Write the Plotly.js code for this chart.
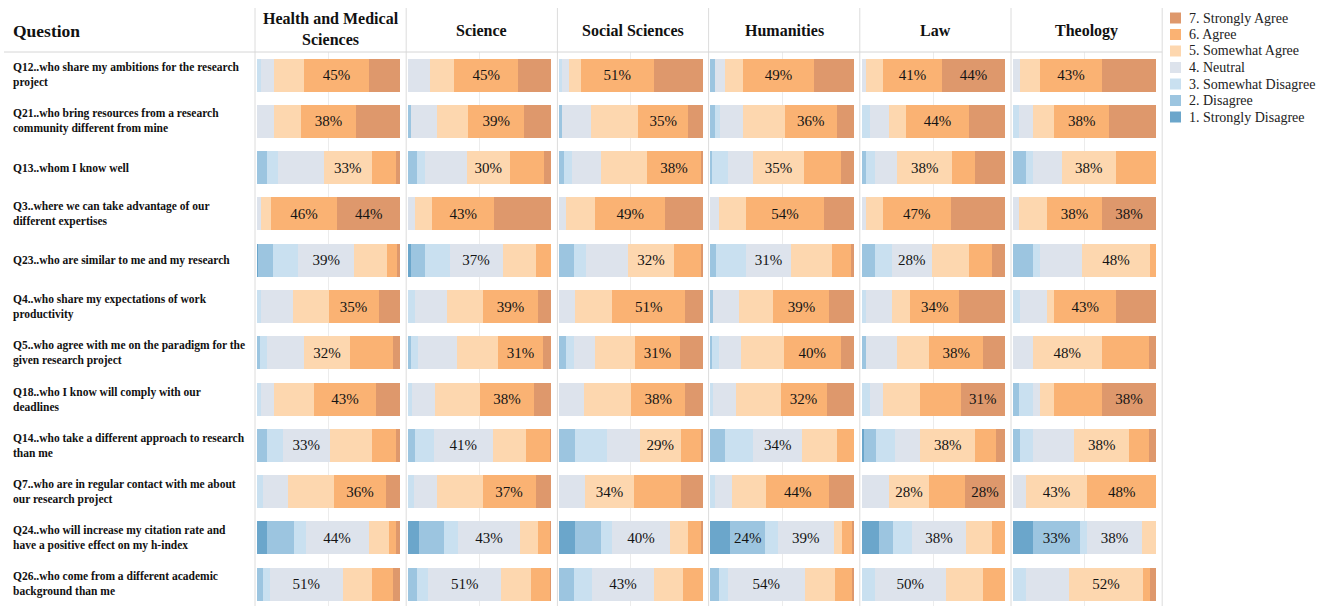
<!DOCTYPE html>
<html>
<head>
<meta charset="utf-8">
<script src="https://cdn.plot.ly/plotly-3.0.1.min.js"></script>
<style>
  html, body { margin: 0; padding: 0; background: #ffffff; }
  #chart { width: 1331px; height: 606px; }
</style>
</head>
<body>
<div id="chart"></div>
<script>
// Questions (row order, top to bottom)
const questionCodes = ["Q12", "Q21", "Q13", "Q3", "Q23", "Q4", "Q5", "Q18", "Q14", "Q7", "Q24", "Q26"];
const questionTexts = [
  "Q12..who share my ambitions for the research<br>project",
  "Q21..who bring resources from a research<br>community different from mine",
  "Q13..whom I know well",
  "Q3..where we can take advantage of our<br>different expertises",
  "Q23..who are similar to me and my research",
  "Q4..who share my expectations of work<br>productivity",
  "Q5..who agree with me on the paradigm for the<br>given research project",
  "Q18..who I know will comply with our<br>deadlines",
  "Q14..who take a different approach to research<br>than me",
  "Q7..who are in regular contact with me about<br>our research project",
  "Q24..who will increase my citation rate and<br>have a positive effect on my h-index",
  "Q26..who come from a different academic<br>background than me"
];

// Disciplines (panel order, left to right)
const disciplines = ["Health and Medical Sciences", "Science", "Social Sciences", "Humanities", "Law", "Theology"];
const disciplineHeaders = ["Health and Medical<br>Sciences", "Science", "Social Sciences", "Humanities", "Law", "Theology"];

// Likert response levels and their colours
const responses = ["1. Strongly Disagree", "2. Disagree", "3. Somewhat Disagree", "4. Neutral",
                   "5. Somewhat Agree", "6. Agree", "7. Strongly Agree"];
const responseColors = ["#6ba6cb", "#9cc5e0", "#c9e0f0", "#dde3ec", "#fdd7af", "#fab273", "#de986c"];

// Share of answers (%) per question, levels 1..7
const health = [
  [0, 0, 3, 9, 21, 45, 22],
  [0, 0, 0, 12, 19, 38, 31],
  [0, 7, 8, 32, 33, 17, 3],
  [0, 0, 0, 3, 7, 46, 44],
  [1, 10, 18, 39, 23, 7, 2],
  [0, 0, 3, 22, 25, 35, 15],
  [0, 2, 5, 26, 32, 30, 5],
  [0, 0, 3, 9, 28, 43, 17],
  [0, 7, 11, 33, 29, 17, 3],
  [0, 0, 4, 18, 32, 36, 10],
  [7, 19, 8, 44, 14, 5, 3],
  [0, 4, 5, 51, 20, 15, 5]
];
const science = [
  [0, 0, 0, 15, 17, 45, 23],
  [0, 2, 0, 18, 22, 39, 19],
  [0, 6, 6, 29, 30, 24, 5],
  [0, 0, 0, 5, 12, 43, 40],
  [2, 10, 17, 37, 23, 11, 0],
  [0, 0, 5, 22, 25, 39, 9],
  [0, 2, 5, 27, 29, 31, 6],
  [0, 0, 3, 16, 31, 38, 12],
  [0, 5, 13, 41, 23, 17, 1],
  [0, 0, 4, 16, 32, 37, 11],
  [8, 17, 10, 43, 13, 8, 1],
  [0, 6, 8, 51, 21, 13, 1]
];
const socialSciences = [
  [0, 0, 2, 5, 8, 51, 34],
  [0, 2, 0, 20, 33, 35, 10],
  [0, 3, 6, 20, 32, 38, 1],
  [0, 0, 0, 5, 20, 49, 26],
  [0, 10, 9, 29, 32, 19, 1],
  [0, 0, 0, 11, 26, 51, 12],
  [0, 5, 5, 15, 28, 31, 16],
  [0, 0, 0, 17, 33, 38, 12],
  [0, 11, 22, 23, 29, 14, 1],
  [0, 0, 0, 18, 34, 33, 15],
  [11, 18, 8, 40, 13, 9, 1],
  [0, 10, 13, 43, 20, 14, 0]
];
const humanities = [
  [0, 3, 0, 7, 13, 49, 28],
  [0, 3, 4, 16, 29, 36, 12],
  [0, 1, 11, 18, 35, 26, 9],
  [0, 0, 0, 6, 19, 54, 21],
  [0, 4, 21, 31, 29, 13, 2],
  [0, 2, 0, 18, 24, 39, 17],
  [0, 1, 5, 15, 30, 40, 9],
  [0, 0, 2, 16, 31, 32, 19],
  [0, 10, 20, 34, 24, 12, 0],
  [0, 0, 3, 12, 24, 44, 17],
  [14, 24, 9, 39, 6, 7, 1],
  [0, 6, 6, 54, 21, 12, 1]
];
const law = [
  [0, 0, 0, 3, 12, 41, 44],
  [0, 0, 6, 13, 12, 44, 25],
  [0, 3, 6, 16, 38, 16, 21],
  [0, 0, 0, 3, 12, 47, 38],
  [0, 9, 12, 28, 26, 16, 9],
  [0, 0, 3, 18, 13, 34, 32],
  [0, 3, 0, 22, 22, 38, 15],
  [0, 0, 6, 9, 26, 28, 31],
  [2, 8, 13, 18, 38, 15, 6],
  [0, 0, 0, 19, 28, 25, 28],
  [12, 10, 13, 38, 18, 9, 0],
  [0, 0, 9, 50, 26, 15, 0]
];
const theology = [
  [0, 0, 0, 5, 14, 43, 38],
  [0, 0, 4, 10, 15, 38, 33],
  [0, 9, 5, 20, 38, 28, 0],
  [0, 0, 0, 4, 20, 38, 38],
  [0, 14, 5, 29, 48, 4, 0],
  [0, 0, 5, 19, 5, 43, 28],
  [0, 0, 0, 14, 48, 33, 5],
  [0, 4, 10, 5, 10, 33, 38],
  [0, 5, 9, 29, 38, 14, 5],
  [0, 0, 0, 9, 43, 48, 0],
  [14, 33, 5, 38, 10, 0, 0],
  [0, 0, 9, 30, 52, 5, 4]
];
const shares = [health, science, socialSciences, humanities, law, theology];

// The largest share of each bar is labelled; these extra segments are labelled too
const extraLabels = [
  ["Health and Medical Sciences", "Q3", "7. Strongly Agree"],
  ["Humanities", "Q24", "2. Disagree"],
  ["Law", "Q12", "6. Agree"],
  ["Theology", "Q24", "2. Disagree"],
  ["Theology", "Q7", "5. Somewhat Agree"]
];

// ---- page geometry (pixels) ----
const W = 1331, H = 606, TOP = 52;
const COL0 = 255, COLW = 151.2, BAR_PAD = 1.8, BAR_W = 143.4;
const FONT = "'Liberation Serif', 'Times New Roman', Times, serif";
const px = x => x / W;
const py = y => (H - y) / (H - TOP);

function isLabelled(d, q, r) {
  const row = shares[d][q];
  const mx = Math.max(...row);
  if (row[r] === mx) return true;
  return extraLabels.some(e => e[0] === disciplines[d] && e[1] === questionCodes[q] && e[2] === responses[r]);
}

const traces = [];
const layout = {
  width: W, height: H,
  margin: { l: 0, r: 0, t: TOP, b: 0, pad: 0 },
  paper_bgcolor: "#ffffff",
  plot_bgcolor: "#ffffff",
  barmode: "stack",
  bargap: 0.287,
  showlegend: false,
  font: { family: FONT, color: "#111111" },
  yaxis: {
    type: "category",
    categoryorder: "array",
    categoryarray: questionCodes,
    range: [11.47, -0.5],
    showticklabels: false, showgrid: false, zeroline: false, showline: false,
    fixedrange: true
  },
  shapes: [],
  annotations: []
};

disciplines.forEach((disc, d) => {
  const axId = d === 0 ? "" : String(d + 1);
  const left = COL0 + COLW * d;
  const k = BAR_W / 100;
  layout["xaxis" + axId] = {
    domain: [px(left), px(left + COLW)],
    range: [-BAR_PAD / k, (COLW - BAR_PAD) / k],
    tickvals: [50],
    showticklabels: false,
    showgrid: true, gridcolor: "#ececec", gridwidth: 1,
    zeroline: false, showline: false, ticks: "",
    fixedrange: true
  };
  responses.forEach((resp, r) => {
    const xs = shares[d].map(row => row[r]);
    traces.push({
      type: "bar",
      orientation: "h",
      name: resp,
      x: xs,
      y: questionCodes,
      xaxis: "x" + axId,
      yaxis: "y",
      marker: { color: responseColors[r], line: { width: 0 } },
      text: xs.map((v, q) => (v > 0 && isLabelled(d, q, r)) ? v + "%" : ""),
      textposition: "inside",
      insidetextanchor: "middle",
      textangle: 0,
      constraintext: "none",
      textfont: { family: FONT, size: 15, color: "#141414" },
      hoverinfo: "skip"
    });
  });
  // panel header
  layout.annotations.push({
    xref: "paper", yref: "paper",
    x: px(left + COLW / 2), y: py(d === 0 ? 29 : 31),
    xanchor: "center", yanchor: "middle",
    text: "<b>" + disciplineHeaders[d] + "</b>",
    showarrow: false,
    font: { family: FONT, size: 16, color: "#111111" }
  });
});

// panel separators
for (let i = 0; i <= disciplines.length; i++) {
  const x = COL0 + COLW * i;
  layout.shapes.push({
    type: "line", xref: "paper", yref: "paper",
    x0: px(x), x1: px(x), y0: py(H), y1: py(8),
    line: { color: "#dcdcdc", width: 1 }
  });
}
// header rule
layout.shapes.push({
  type: "line", xref: "paper", yref: "paper",
  x0: px(4), x1: px(COL0 + COLW * disciplines.length), y0: py(TOP), y1: py(TOP),
  line: { color: "#d6d6d6", width: 1 }
});

// row header
layout.annotations.push({
  xref: "paper", yref: "paper", x: px(11), y: py(31),
  xanchor: "left", yanchor: "middle",
  text: "<b>Question</b>", showarrow: false,
  font: { family: FONT, size: 17.5, color: "#111111" }
});

// question labels
questionCodes.forEach((code, q) => {
  layout.annotations.push({
    xref: "paper", yref: "y", x: px(11), y: code,
    xanchor: "left", yanchor: "middle", align: "left",
    text: "<b>" + questionTexts[q] + "</b>", showarrow: false,
    font: { family: FONT, size: 11.5, color: "#111111" }
  });
});

// legend (level 7 on top)
const LEG_X = 1170, LEG_Y0 = 18, LEG_STEP = 16.5, SW = 11;
responses.slice().reverse().forEach((resp, i) => {
  const r = responses.length - 1 - i;
  const cy = LEG_Y0 + LEG_STEP * i;
  layout.shapes.push({
    type: "rect", xref: "paper", yref: "paper",
    x0: px(LEG_X), x1: px(LEG_X + SW), y0: py(cy + SW / 2), y1: py(cy - SW / 2),
    fillcolor: responseColors[r], line: { width: 0 }
  });
  layout.annotations.push({
    xref: "paper", yref: "paper", x: px(LEG_X + SW + 6), y: py(cy),
    xanchor: "left", yanchor: "middle",
    text: resp, showarrow: false,
    font: { family: FONT, size: 14, color: "#222222" }
  });
});

Plotly.newPlot("chart", traces, layout, { displayModeBar: false, staticPlot: true });
</script>
</body>
</html>
